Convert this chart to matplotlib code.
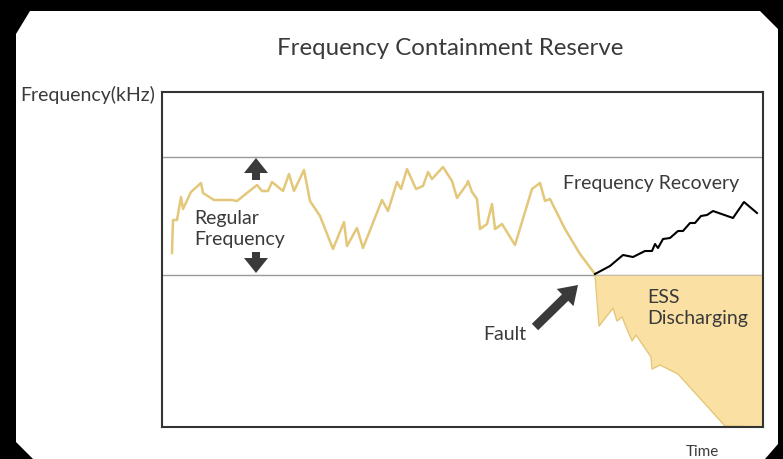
import matplotlib
matplotlib.use('Agg')
import matplotlib.pyplot as plt
from matplotlib.patches import Polygon

plt.rcParams['font.family'] = ['Lato', 'DejaVu Sans']

# regular frequency trace (time, freq) in arbitrary units
reg_t = [10, 11, 15, 19, 21, 29, 39, 41, 52, 70, 75, 95, 100, 106, 110, 121, 127, 132,
         142, 148, 158, 171, 182, 185, 195, 201, 220, 226, 235, 239, 245, 254, 261, 266,
         270, 281, 290, 295, 305, 306, 310, 315, 318, 325, 330, 333, 340, 353, 370, 378,
         383, 388, 403, 418, 433]
reg_f = [174, 207, 207, 230, 218, 235, 244, 234, 227, 227, 226, 242, 236, 236, 245, 236,
         253, 236, 257, 226, 211, 178, 205, 181, 199, 179, 227, 216, 245, 238, 258, 238,
         241, 255, 248, 260, 246, 229, 243, 246, 235, 228, 198, 203, 223, 198, 203, 182,
         238, 244, 226, 228, 198, 173, 153]

# recovery trace after the fault
rec_t = [433, 448, 461, 471, 483, 490, 493, 496, 501, 508, 516, 521, 528, 533, 539, 545,
         551, 571, 582, 595]
rec_f = [153, 161, 172, 170, 176, 176, 183, 179, 188, 189, 196, 196, 204, 204, 211, 212,
         216, 209, 225, 214]

# ESS discharge region lower edge
ess_t = [433, 437, 451, 455, 460, 470, 474, 489, 490, 498, 516, 563, 601]
ess_f = [152, 101, 119, 106, 110, 86, 92, 70, 58, 62, 53, 1, 0]

band_lo = 152
band_hi = 270

line_col = '#E3C77A'
fill_col = '#FBE0A3'
txt_col = '#3a3a3a'

fig = plt.figure(figsize=(7.83, 4.6), dpi=100)
fig.patch.set_facecolor('black')

# white panel with chamfered corners
W, H = 783, 460
panel = [(16, H - 35), (30, H - 12), (760, H - 12), (778, H - 30), (778, H - 445),
         (765, 0), (33, 0), (16, H - 443)]
panel = [(x / W, y / H) for x, y in panel]
fig.patches.append(Polygon(panel, closed=True, transform=fig.transFigure,
                           facecolor='white', edgecolor='none', zorder=-5))

ax = fig.add_axes([162 / W, 1 - 428 / H, 601 / W, 335 / H])
ax.set_zorder(2)
ax.set_xlim(0, 601)
ax.set_ylim(0, 335)
ax.set_xticks([])
ax.set_yticks([])
ax.set_facecolor('white')
for s in ax.spines.values():
    s.set_color('#333333')
    s.set_linewidth(1.5)

ax.axhline(band_lo, color='#999999', lw=1)
ax.axhline(band_hi, color='#999999', lw=1)

ax.fill_between(ess_t, ess_f, band_lo, color=fill_col, lw=0, zorder=2)
ax.plot(ess_t, ess_f, color=line_col, lw=1, zorder=2)
ax.plot(reg_t, reg_f, color=line_col, lw=1.8, zorder=3)
ax.plot(rec_t, rec_f, color='black', lw=1.5, zorder=3)

arrow_col = '#3a3a3a'
ax.arrow(94, 247, 0, 22, width=8, head_width=24, head_length=15,
         length_includes_head=True, color=arrow_col, lw=0, zorder=4)
ax.arrow(94, 175, 0, -21, width=8, head_width=24, head_length=15,
         length_includes_head=True, color=arrow_col, lw=0, zorder=4)
ax.arrow(373, 100, 43, 42, width=9, head_width=24, head_length=18,
         length_includes_head=True, color=arrow_col, lw=0, zorder=4)

ax.text(32, 199, 'Regular\nFrequency', ha='left', va='center', fontsize=14,
        color=txt_col, linespacing=1.3)
ax.text(401, 244, 'Frequency Recovery', ha='left', va='center', fontsize=14, color=txt_col)
ax.text(485, 120, 'ESS\nDischarging', ha='left', va='center', fontsize=14,
        color=txt_col, linespacing=1.3)
ax.text(321, 93, 'Fault', ha='left', va='center', fontsize=14, color=txt_col)

fig.text(450 / W, 1 - 49 / H, 'Frequency Containment Reserve', ha='center', va='center',
         fontsize=17.3, color=txt_col)
fig.text(20 / W, 1 - 95 / H, 'Frequency(kHz)', ha='left', va='center', fontsize=14,
         color=txt_col)
fig.text(702 / W, 1 - 452 / H, 'Time', ha='center', va='center', fontsize=11,
         color=txt_col)

fig.savefig('out.png', dpi=100, facecolor=fig.get_facecolor())
